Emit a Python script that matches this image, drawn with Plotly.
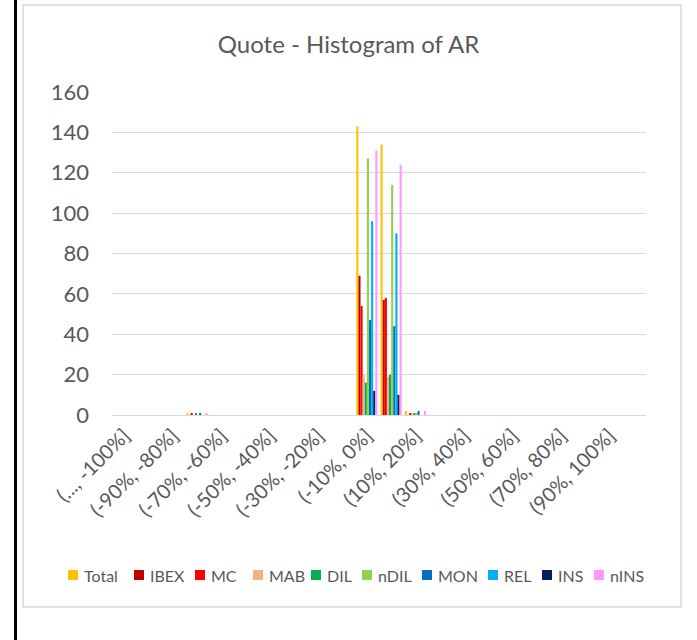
import plotly.graph_objects as go

# Return bins (22 categories)
categories = [
    "(..., -100%]", "(-100%, -90%]", "(-90%, -80%]", "(-80%, -70%]", "(-70%, -60%]",
    "(-60%, -50%]", "(-50%, -40%]", "(-40%, -30%]", "(-30%, -20%]", "(-20%, -10%]",
    "(-10%, 0%]", "(0%, 10%]", "(10%, 20%]", "(20%, 30%]", "(30%, 40%]",
    "(40%, 50%]", "(50%, 60%]", "(60%, 70%]", "(70%, 80%]", "(80%, 90%]",
    "(90%, 100%]", "(100%, ...]",
]

def counts(m70, m0, p0, p10):
    """Frequency per bin; only four bins are non-empty."""
    v = [0] * len(categories)
    v[3], v[10], v[11], v[12] = m70, m0, p0, p10
    return v

total = counts(1, 143, 134, 2)
ibex = counts(0, 69, 57, 0)
mc = counts(1, 54, 58, 1)
mab = counts(0, 20, 19, 1)
dil = counts(1, 16, 20, 1)
ndil = counts(0, 127, 114, 1)
mon = counts(1, 47, 44, 2)
rel = counts(0, 96, 90, 0)
ins = counts(0, 12, 10, 0)
nins = counts(1, 131, 124, 2)

series_names = ["Total", "IBEX", "MC", "MAB", "DIL", "nDIL", "MON", "REL", "INS", "nINS"]
series_values = [total, ibex, mc, mab, dil, ndil, mon, rel, ins, nins]
series_colors = ["#FFC000", "#C00000", "#FF0000", "#F4B183", "#00B050",
                 "#92D050", "#0070C0", "#00B0F0", "#002060", "#FF99FF"]

y_ticks = [0, 20, 40, 60, 80, 100, 120, 140, 160]
x_tick_labels = categories[0:21:2]

W, H = 697, 640
L, R, T, B = 112, 646, 92, 415  # plot area in pixels

def px(x):
    return (x - L) / (R - L)

def py(y):
    return (B - y) / (B - T)

fig = go.Figure()
for name, vals, col in zip(series_names, series_values, series_colors):
    fig.add_trace(go.Bar(x=categories, y=vals, name=name, showlegend=False,
                         marker=dict(color=col, line=dict(width=0))))

font_family = "Lato, 'Open Sans', sans-serif"
txt = "#595959"

shapes = [
    # chart area border
    dict(type="rect", xref="paper", yref="paper",
         x0=px(23), x1=px(681), y0=py(607), y1=py(5),
         line=dict(color="#d9d9d9", width=1.5), fillcolor="rgba(0,0,0,0)", layer="below"),
    # dark edge on the left
    dict(type="line", xref="paper", yref="paper",
         x0=px(15.5), x1=px(15.5), y0=py(H), y1=py(0),
         line=dict(color="black", width=3)),
]
annotations = []

# Legend row along the bottom: swatch left edge for each entry (pixels)
legend_x = [68, 134, 195, 253, 311, 362, 422, 488, 542, 594]
legend_y = 575
sw = 10
for name, col, x0 in zip(series_names, series_colors, legend_x):
    shapes.append(dict(type="rect", xref="paper", yref="paper",
                       x0=px(x0), x1=px(x0 + sw), y0=py(legend_y + sw / 2), y1=py(legend_y - sw / 2),
                       line=dict(width=0), fillcolor=col))
    annotations.append(dict(text=name, xref="paper", yref="paper",
                            x=px(x0 + sw + 4), y=py(legend_y), xanchor="left", yanchor="middle",
                            showarrow=False, font=dict(size=16, color=txt, family=font_family)))

fig.update_layout(
    width=W, height=H,
    margin=dict(l=L, r=W - R, t=T, b=H - B),
    paper_bgcolor="white", plot_bgcolor="white",
    barmode="group", bargap=0.13, bargroupgap=0,
    font=dict(family=font_family, color=txt),
    title=dict(text="Quote - Histogram of AR", x=0.5, xanchor="center",
               y=1 - 45 / H, yanchor="middle",
               font=dict(size=24, color=txt, family=font_family)),
    showlegend=False,
    xaxis=dict(type="category", categoryorder="array", categoryarray=categories,
               tickmode="array", tickvals=x_tick_labels, ticktext=x_tick_labels,
               tickangle=-45, tickfont=dict(size=20, color=txt),
               showgrid=False, showline=True, linecolor="#d9d9d9", linewidth=1,
               ticks="", zeroline=False),
    yaxis=dict(range=[0, 160], tickmode="array", tickvals=y_ticks,
               tickfont=dict(size=22, color=txt), showgrid=True,
               gridcolor="#d9d9d9", gridwidth=1, zeroline=False, ticks="",
               showline=False, ticklabelstandoff=22),
    shapes=shapes,
    annotations=annotations,
)

fig.write_html("out.html")
